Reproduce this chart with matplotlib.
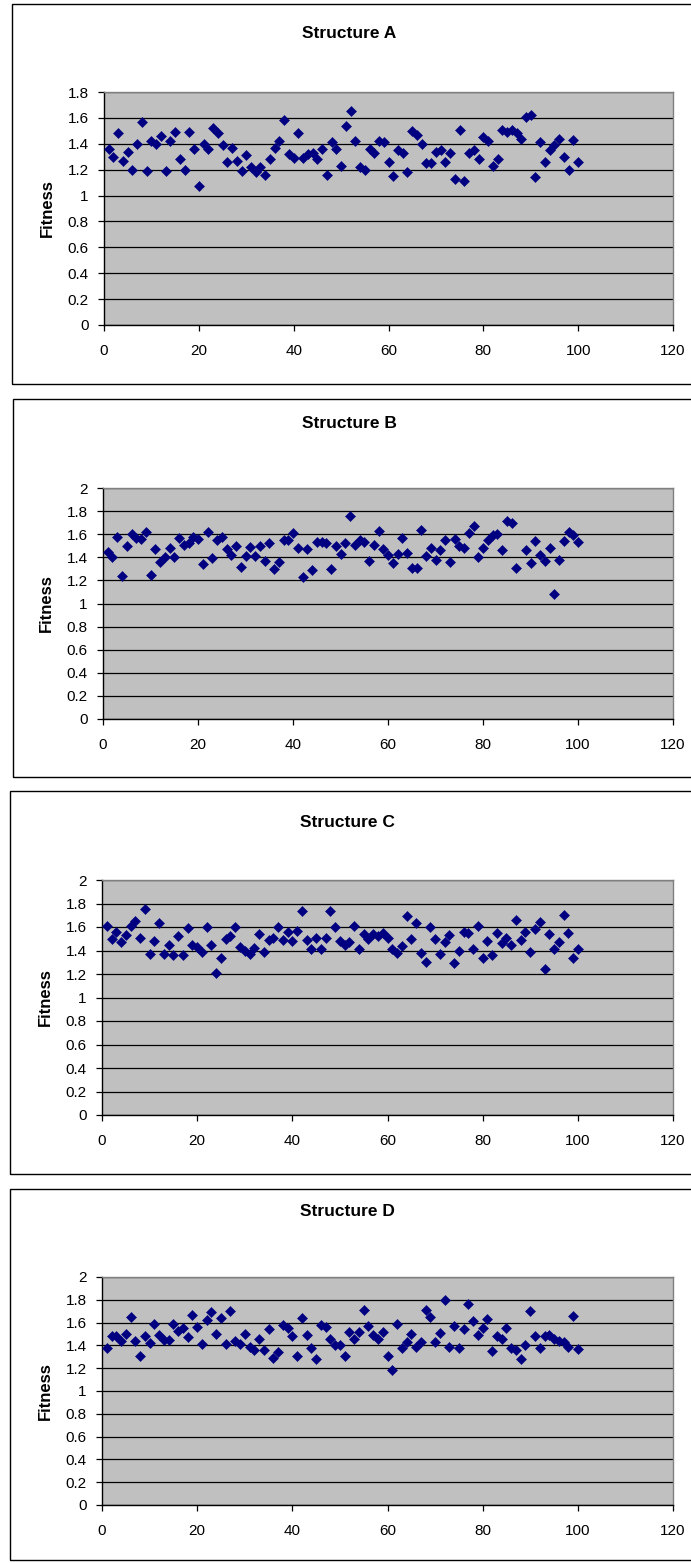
import numpy as np
import matplotlib
matplotlib.use("Agg")
import matplotlib.pyplot as plt
from matplotlib.patches import Rectangle

plt.rcParams["font.family"] = ["Liberation Sans", "DejaVu Sans"]

# ---- data -----------------------------------------------------------------
generation = np.arange(1, 101)

fitness_a = [
    1.36, 1.30, 1.48, 1.27, 1.34, 1.20, 1.40, 1.57, 1.19, 1.42,
    1.40, 1.46, 1.19, 1.42, 1.49, 1.28, 1.20, 1.49, 1.36, 1.07,
    1.40, 1.36, 1.52, 1.48, 1.39, 1.26, 1.37, 1.27, 1.19, 1.31,
    1.22, 1.18, 1.22, 1.16, 1.28, 1.37, 1.42, 1.58, 1.32, 1.29,
    1.48, 1.29, 1.32, 1.33, 1.28, 1.36, 1.16, 1.41, 1.36, 1.23,
    1.54, 1.65, 1.42, 1.22, 1.20, 1.36, 1.33, 1.42, 1.41, 1.26,
    1.15, 1.35, 1.33, 1.18, 1.50, 1.47, 1.40, 1.25, 1.25, 1.34,
    1.35, 1.26, 1.33, 1.13, 1.51, 1.11, 1.33, 1.35, 1.28, 1.45,
    1.42, 1.23, 1.28, 1.51, 1.49, 1.51, 1.48, 1.44, 1.61, 1.62,
    1.14, 1.41, 1.26, 1.35, 1.39, 1.44, 1.30, 1.20, 1.43, 1.26,
]
fitness_b = [
    1.45, 1.40, 1.58, 1.24, 1.50, 1.60, 1.57, 1.56, 1.62, 1.25,
    1.47, 1.36, 1.40, 1.48, 1.40, 1.57, 1.51, 1.52, 1.58, 1.56,
    1.34, 1.62, 1.39, 1.55, 1.58, 1.47, 1.42, 1.50, 1.32, 1.41,
    1.49, 1.41, 1.50, 1.37, 1.52, 1.30, 1.36, 1.55, 1.55, 1.61,
    1.48, 1.23, 1.47, 1.29, 1.53, 1.53, 1.52, 1.30, 1.50, 1.43,
    1.52, 1.76, 1.51, 1.55, 1.53, 1.37, 1.51, 1.63, 1.47, 1.42,
    1.35, 1.43, 1.57, 1.44, 1.31, 1.31, 1.64, 1.41, 1.48, 1.38,
    1.46, 1.55, 1.36, 1.56, 1.50, 1.48, 1.61, 1.67, 1.40, 1.48,
    1.55, 1.59, 1.60, 1.46, 1.71, 1.70, 1.31, np.nan, 1.46, 1.35,
    1.54, 1.42, 1.37, 1.48, 1.08, 1.38, 1.54, 1.62, 1.59, 1.53,
]
fitness_c = [
    1.61, 1.50, 1.56, 1.47, 1.53, 1.61, 1.65, 1.51, 1.75, 1.37,
    1.48, 1.63, 1.37, 1.45, 1.36, 1.52, 1.36, 1.59, 1.45, 1.43,
    1.39, 1.60, 1.45, 1.21, 1.34, 1.50, 1.52, 1.60, 1.43, 1.40,
    1.37, 1.42, 1.54, 1.39, 1.49, 1.51, 1.60, 1.49, 1.56, 1.48,
    1.57, 1.74, 1.49, 1.41, 1.51, 1.41, 1.51, 1.74, 1.60, 1.48,
    1.45, 1.47, 1.61, 1.41, 1.54, 1.50, 1.54, 1.52, 1.55, 1.51,
    1.41, 1.38, 1.44, 1.69, 1.50, 1.63, 1.38, 1.30, 1.60, 1.50,
    1.37, 1.47, 1.53, 1.29, 1.40, 1.56, 1.55, 1.41, 1.61, 1.34,
    1.48, 1.36, 1.55, 1.46, 1.51, 1.45, 1.66, 1.49, 1.56, 1.39,
    1.58, 1.64, 1.24, 1.54, 1.41, 1.47, 1.70, 1.55, 1.34, 1.41,
]
fitness_d = [
    1.38, 1.48, 1.48, 1.44, 1.50, 1.65, 1.44, 1.31, 1.48, 1.42,
    1.59, 1.49, 1.45, 1.45, 1.59, 1.53, 1.55, 1.47, 1.67, 1.56,
    1.41, 1.62, 1.69, 1.50, 1.64, 1.41, 1.70, 1.44, 1.41, 1.50,
    1.39, 1.36, 1.46, 1.36, 1.54, 1.29, 1.34, 1.58, 1.55, 1.48,
    1.31, 1.64, 1.49, 1.38, 1.28, 1.58, 1.56, 1.46, 1.40, 1.40,
    1.31, 1.52, 1.46, 1.52, 1.71, 1.57, 1.49, 1.46, 1.52, 1.31,
    1.18, 1.59, 1.38, 1.43, 1.50, 1.39, 1.43, 1.71, 1.65, 1.43,
    1.51, 1.80, 1.39, 1.57, 1.38, 1.54, 1.76, 1.61, 1.49, 1.55,
    1.63, 1.35, 1.48, 1.46, 1.55, 1.38, 1.36, 1.28, 1.40, 1.70,
    1.48, 1.38, 1.48, 1.49, 1.46, 1.44, 1.43, 1.39, 1.66, 1.37,
]

titles = ["Structure A", "Structure B", "Structure C", "Structure D"]
series = [fitness_a, fitness_b, fitness_c, fitness_d]
y_max = [1.8, 2.0, 2.0, 2.0]
x_ticks = [0, 20, 40, 60, 80, 100, 120]

# ---- layout (pixel positions in a 691 x 1563 canvas) ----------------------
W, H = 691, 1563
# (plot left, y of axis top, y of axis zero, box left, box top, box bottom, title y)
layout = [
    (104, 92, 325, 12, 4, 384, 33),
    (103, 488, 719, 13, 399, 777, 423),
    (102, 880, 1115, 10, 791, 1174, 822),
    (102, 1277, 1505, 10, 1189, 1560, 1212),
]
plot_right = 673

NAVY = "#000080"
PLOT_BG = "#C0C0C0"

fig = plt.figure(figsize=(W / 100, H / 100), dpi=100)
fig.patch.set_facecolor("white")


def fmt(v):
    s = f"{v:.1f}"
    return s[:-2] if s.endswith(".0") else s


for (left, ytop, yzero, bx, btop, bbot, ty), title, vals, ymax in zip(
        layout, titles, series, y_max):
    # chart border
    fig.add_artist(Rectangle((bx / W, 1 - bbot / H), (W + 10 - bx) / W, (bbot - btop) / H,
                             transform=fig.transFigure, fill=False, ec="black", lw=1.0))
    ax = fig.add_axes([left / W, 1 - yzero / H, (plot_right - left) / W, (yzero - ytop) / H])
    ax.set_facecolor(PLOT_BG)
    ax.plot(generation, vals, linestyle="none", marker="D", ms=5.0,
            color=NAVY, mec=NAVY, mew=0.4, zorder=3, clip_on=False)
    ax.set_xlim(0, 120)
    ax.set_ylim(0, ymax)
    yt = np.round(np.arange(0, ymax + 0.001, 0.2), 1)
    ax.set_yticks(yt)
    ax.set_yticklabels([fmt(v) for v in yt])
    ax.set_xticks(x_ticks)
    ax.yaxis.grid(True, color="black", lw=0.9)
    ax.set_axisbelow(True)
    for s in ("top", "right"):
        ax.spines[s].set_color("#808080")
        ax.spines[s].set_linewidth(1.0)
    for s in ("left", "bottom"):
        ax.spines[s].set_color("black")
        ax.spines[s].set_linewidth(1.0)
    ax.tick_params(axis="both", direction="out", length=4.5, width=0.9,
                   labelsize=11, color="black")
    ax.tick_params(axis="x", pad=9.5)
    ax.tick_params(axis="y", pad=6.5)
    ax.set_ylabel("Fitness", fontsize=12, fontweight="bold", labelpad=9)
    fig.text((bx + W) / 2 / W - 0.004, 1 - ty / H, title, ha="center", va="center",
             fontsize=12.5, fontweight="bold")

fig.savefig("out.png", dpi=100, facecolor="white")
